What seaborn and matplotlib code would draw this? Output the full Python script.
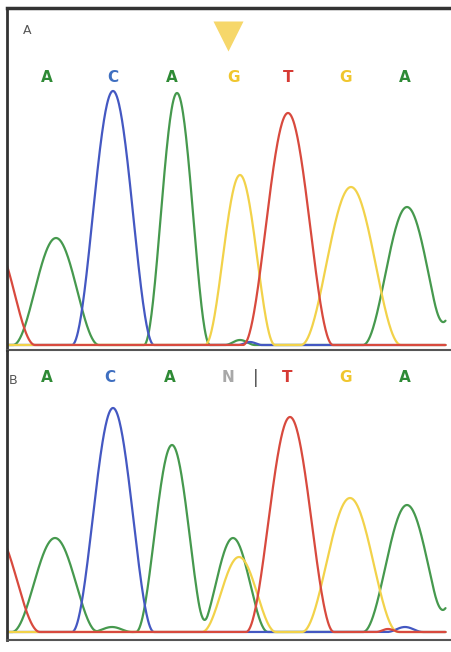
import matplotlib
matplotlib.use("Agg")
import matplotlib.pyplot as plt
import seaborn as sns
import numpy as np
import pandas as pd

# base calls shown above each trace
bases_a = ["A", "C", "A", "G", "T", "G", "A"]
bases_b = ["A", "C", "A", "N", "T", "G", "A"]
call_pos_a = [47, 113, 172, 233, 288, 345, 405]
call_pos_b = [47, 110, 170, 228, 287, 345, 405]

# peaks: channel, centre, height, half base width
peaks_a_channel = ["T", "A", "C", "A", "G", "T", "G", "A", "A", "A", "C"]
peaks_a_center = [-5, 56, 113, 177, 240, 288, 351, 407, 474, 240, 250]
peaks_a_height = [100, 107, 254, 252, 170, 232, 158, 138, 100, 5, 3]
peaks_a_width = [40, 43, 41, 33, 35, 45, 50, 44, 40, 15, 12]

peaks_b_channel = ["T", "A", "A", "C", "A", "A", "G", "T", "G", "A", "A", "C", "T"]
peaks_b_center = [-5, 55, 112, 113, 172, 233, 239, 290, 350, 407, 474, 405, 388]
peaks_b_height = [100, 94, 5, 224, 187, 94, 75, 215, 134, 127, 100, 5, 3]
peaks_b_width = [45, 43, 20, 41, 36, 35, 37, 44, 48, 44, 40, 18, 12]

channel_colors = {"A": "#46994e", "C": "#4458c2", "G": "#f2d24a", "T": "#d84a3e"}
call_colors = {"A": "#2e8a35", "C": "#3f6fc0", "G": "#f0c62e", "T": "#d63a34", "N": "#a8a8a8"}


def traces(channels, centers, heights, widths):
    scan = np.arange(7, 446, 0.5)
    rows = []
    for ch in ["A", "C", "G", "T"]:
        sig = np.zeros_like(scan)
        for c, x0, h, w in zip(channels, centers, heights, widths):
            if c == ch:
                d = np.clip((scan - x0) / w, -1, 1)
                sig += h * np.cos(np.pi * d / 2) ** 2
        rows.append(pd.DataFrame({"scan": scan, "signal": sig, "base": ch}))
    return pd.concat(rows, ignore_index=True)


sns.set_style("white")
fig = plt.figure(figsize=(4.51, 6.52), dpi=100)
H = 652.0
W = 451.0
ax_a = fig.add_axes([7 / W, (H - 350) / H, 444 / W, 342 / H])
ax_b = fig.add_axes([7 / W, (H - 640) / H, 444 / W, 289 / H])

panels = [
    (ax_a, traces(peaks_a_channel, peaks_a_center, peaks_a_height, peaks_a_width),
     bases_a, call_pos_a, (-5, 337), 267, "A", (27, 315)),
    (ax_b, traces(peaks_b_channel, peaks_b_center, peaks_b_height, peaks_b_width),
     bases_b, call_pos_b, (-8, 281), 254, "B", (13, 251)),
]

for ax, df, calls, pos, ylim, call_y, label, label_xy in panels:
    sns.lineplot(data=df, x="scan", y="signal", hue="base",
                 hue_order=["A", "C", "G", "T"], palette=channel_colors,
                 estimator=None, sort=False, lw=1.6, ax=ax, legend=False)
    for b, x in zip(calls, pos):
        ax.text(x, call_y, b, color=call_colors[b], fontsize=11,
                fontweight="bold", ha="center", va="center")
    ax.text(label_xy[0], label_xy[1], label, color="#555555", fontsize=9,
            ha="center", va="center")
    ax.set_xlim(7, 451)
    ax.set_ylim(*ylim)
    ax.set_xticks([])
    ax.set_yticks([])
    ax.set_xlabel("")
    ax.set_ylabel("")
    ax.spines["right"].set_visible(False)
    ax.spines["left"].set_color("#333333")
    ax.spines["left"].set_linewidth(2)
    ax.spines["bottom"].set_color("#555555")
    ax.spines["bottom"].set_linewidth(1.5)
    ax.patch.set_alpha(0)

ax_a.spines["top"].set_color("#333333")
ax_a.spines["top"].set_linewidth(2.5)
ax_b.spines["top"].set_visible(False)

# marker over the mutated position
ax_a.plot([228], [309], marker="v", markersize=22, color="#f6d76a", mec="none")
# boundary tick between N and T in panel B
ax_b.text(256, 254, "|", color="#444444", fontsize=12, ha="center", va="center")

fig.savefig("out.png", dpi=100, facecolor="white")
